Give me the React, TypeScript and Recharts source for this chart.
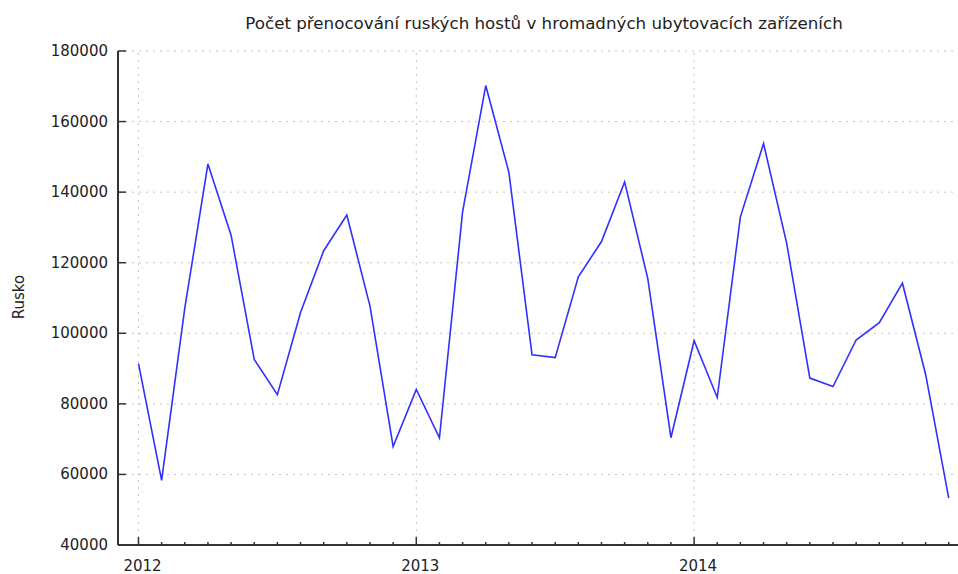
import { LineChart, Line, XAxis, YAxis, CartesianGrid, ReferenceLine } from 'recharts'

// měsíční hodnoty 2012-01 .. 2014-12
const yearLabels = ['2012', '2013', '2014']
const rusko2012 = [91400, 58300, 107100, 148000, 127800, 92600, 82600, 105900, 123400, 133500, 107700, 67900]
const rusko2013 = [84100, 70400, 134400, 170200, 145600, 93900, 93100, 116000, 126000, 142900, 115500, 70400]
const rusko2014 = [97900, 81800, 133000, 153800, 125500, 87300, 84900, 98100, 103000, 114200, 88400, 53300]
const yTicks = [40000, 60000, 80000, 100000, 120000, 140000, 160000, 180000]

const values = [...rusko2012, ...rusko2013, ...rusko2014]
const data = values.map((v, i) => ({ m: i, rusko: v }))
const monthTicks = values.map((_, i) => i)
const yearTicks = yearLabels.map((_, i) => i * 12)

const FONT = 'DejaVu Sans, Verdana, sans-serif'
const AXIS = '#333'

function XTick(props: any) {
  const { x, y, payload } = props
  const major = payload.value % 12 === 0
  return (
    <g>
      <line x1={x} x2={x} y1={y} y2={y - (major ? 8 : 3)} stroke={AXIS} strokeWidth={1.5} />
      {major && (
        <text x={x + 4} y={y + 26} textAnchor="middle" fontSize={15} fontFamily={FONT} fill="#222">
          {yearLabels[payload.value / 12]}
        </text>
      )}
    </g>
  )
}

function YTick(props: any) {
  const { x, y, payload } = props
  return (
    <g>
      {payload.value !== 40000 && <line x1={x} x2={x + 8} y1={y} y2={y} stroke={AXIS} strokeWidth={1.5} />}
      <text x={x - 10} y={y + 5} textAnchor="end" fontSize={15} fontFamily={FONT} fill="#222">
        {payload.value}
      </text>
    </g>
  )
}

export default function App() {
  return (
    <div style={{ position: 'absolute', left: 0, top: 0, width: 958, height: 574, background: '#fff' }}>
      <LineChart width={958} height={574} data={data} margin={{ top: 51, right: 0, bottom: 0, left: 8 }}>
        <text x={544} y={29} textAnchor="middle" fontSize={16.7} fontFamily={FONT} fill="#222">
          Počet přenocování ruských hostů v hromadných ubytovacích zařízeních
        </text>
        <text
          x={24}
          y={297}
          textAnchor="middle"
          fontSize={15}
          fontFamily={FONT}
          fill="#222"
          transform="rotate(-90 24 297)"
        >
          Rusko
        </text>
        <CartesianGrid vertical={false} stroke="#c4c4c4" strokeDasharray="2 5" />
        {yearTicks.map((t) => (
          <ReferenceLine key={t} x={t} stroke="#c4c4c4" strokeDasharray="2 5" />
        ))}
        <XAxis
          dataKey="m"
          type="number"
          domain={[-0.885, 35.4]}
          allowDataOverflow
          ticks={monthTicks}
          interval={0}
          height={29}
          tickSize={0}
          tickMargin={0}
          tickLine={false}
          axisLine={{ stroke: AXIS, strokeWidth: 2 }}
          tick={<XTick />}
        />
        <YAxis
          domain={[40000, 180000]}
          ticks={yTicks}
          interval={0}
          width={110}
          tickSize={0}
          tickMargin={0}
          tickLine={false}
          axisLine={{ stroke: AXIS, strokeWidth: 2 }}
          tick={<YTick />}
        />
        <Line
          type="linear"
          dataKey="rusko"
          stroke="#3030ff"
          strokeWidth={1.6}
          dot={false}
          activeDot={false}
          isAnimationActive={false}
        />
      </LineChart>
    </div>
  )
}
